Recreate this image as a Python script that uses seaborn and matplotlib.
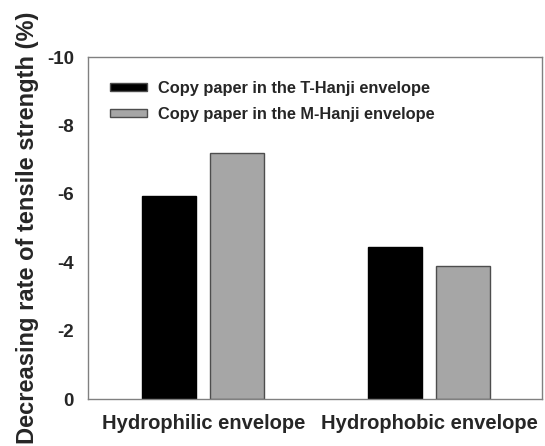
import matplotlib
matplotlib.use("Agg")
import matplotlib.pyplot as plt
import seaborn as sns
import pandas as pd

categories = ["Hydrophilic envelope", "Hydrophobic envelope"]
series = ["Copy paper in the T-Hanji envelope", "Copy paper in the M-Hanji envelope"]
t_hanji = [-5.95, -4.43]
m_hanji = [-7.2, -3.88]
yticks = [0, -2, -4, -6, -8, -10]

df = pd.DataFrame({
    "cat": categories * 2,
    "series": [series[0]] * 2 + [series[1]] * 2,
    "val": t_hanji + m_hanji,
})

sns.set_style("white")
plt.rcParams["font.family"] = ["Liberation Sans", "DejaVu Sans"]
plt.rcParams["font.weight"] = "bold"

fig = plt.figure(figsize=(5.45, 4.46), dpi=100)
ax = fig.add_axes([88 / 545, 1 - 399 / 446, (542 - 88) / 545, (399 - 57) / 446])

sns.barplot(data=df, x="cat", y="val", hue="series", hue_order=series,
            palette=["#000000", "#a6a6a6"], width=0.6, gap=0.2,
            edgecolor="#4d4d4d", linewidth=1.0, ax=ax)
for p in ax.patches[:2]:
    p.set_edgecolor("#000000")

ax.set_ylim(0, -10)
ax.set_xlim(-0.51, 1.5)
ax.set_yticks(yticks)
ax.set_yticklabels([str(v) for v in yticks], fontsize=13.5, fontweight="bold")
ax.set_xticks([0, 1])
ax.set_xticklabels(categories, fontsize=14.5, fontweight="bold")
ax.set_xlabel("")
ax.set_ylabel("Decreasing rate of tensile strength (%)", fontsize=17, fontweight="bold", labelpad=6)

for s in ax.spines.values():
    s.set_color("#808080")
    s.set_linewidth(1.0)
ax.tick_params(axis="both", direction="out", length=4, color="#808080", width=1)
ax.tick_params(axis="y", pad=6)
ax.tick_params(axis="x", pad=7)

leg = ax.legend(loc="upper left", bbox_to_anchor=(0.048, 0.93), frameon=False,
                borderaxespad=0, borderpad=0,
                prop={"size": 11.8, "weight": "bold"}, handlelength=2.25, handleheight=0.35,
                handletextpad=0.67, labelspacing=0.65)
for h in leg.legend_handles:
    h.set_linewidth(1.0)

fig.savefig("out.png", dpi=100)
